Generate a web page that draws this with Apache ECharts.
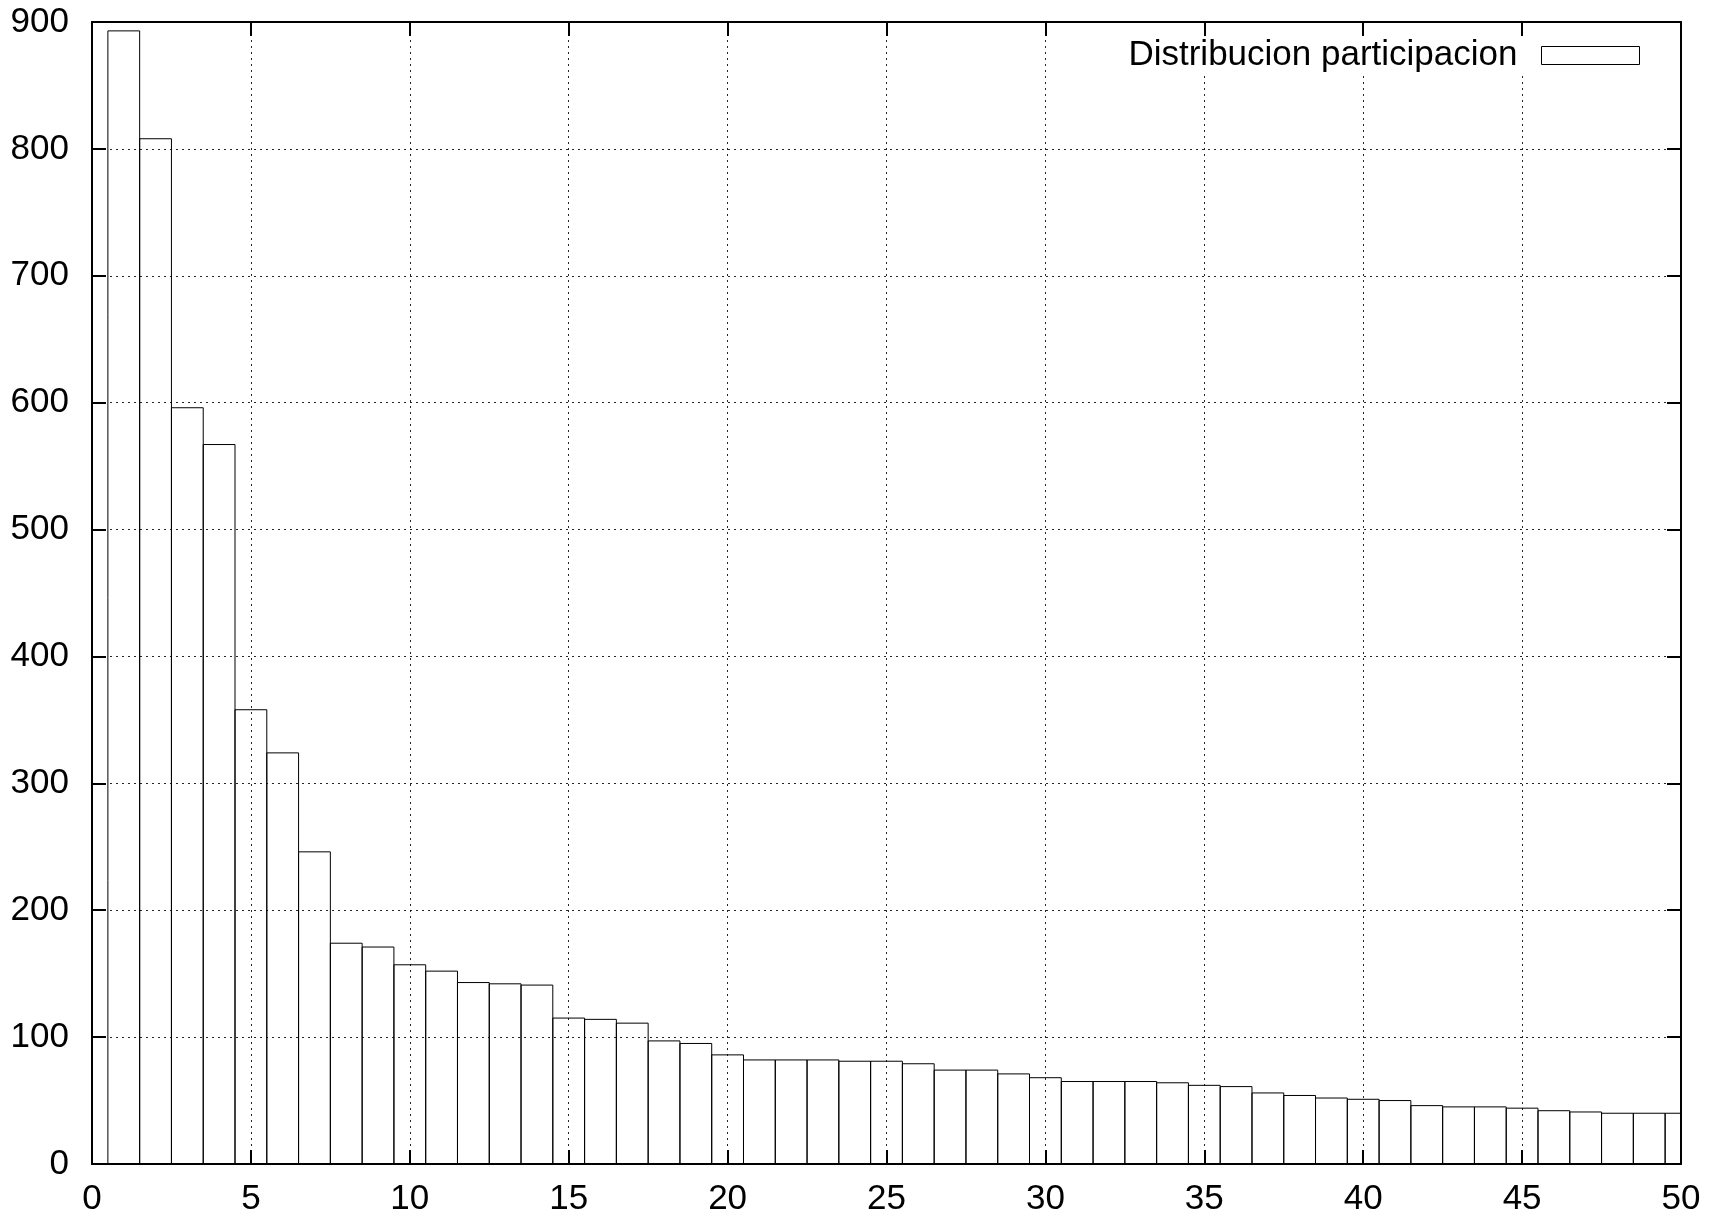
<!DOCTYPE html>
<html>
<head>
<meta charset="utf-8">
<script src="https://cdn.jsdelivr.net/npm/echarts@6/dist/echarts.min.js"></script>
<style>
html,body{margin:0;padding:0;background:#fff;}
#chart{width:1724px;height:1218px;}
</style>
</head>
<body>
<div id="chart"></div>
<script>
// x positions of the bars (categories)
const categories = [1,2,3,4,5,6,7,8,9,10,11,12,13,14,15,16,17,18,19,20,21,22,23,24,25,26,27,28,29,30,31,32,33,34,35,36,37,38,39,40,41,42,43,44,45,46,47,48,49,50];
// bar heights
const values = [893,808,596,567,358,324,246,174,171,157,152,143,142,141,115,114,111,97,95,86,82,82,82,81,81,79,74,74,71,68,65,65,65,64,62,61,56,54,52,51,50,46,45,45,44,42,41,40,40,40];
const seriesName = 'Distribucion participacion';
const xTicks = [0,5,10,15,20,25,30,35,40,45,50];
const yTicks = [0,100,200,300,400,500,600,700,800,900];

const FONT = "'Liberation Sans', Arial, sans-serif";
const FS = 35;
const data = categories.map((c, i) => [c, values[i]]);

const chart = echarts.init(document.getElementById('chart'), null, {renderer: 'canvas'});
const dotted = {color: '#000', width: 1, type: [2, 4], opacity: 0.85};

chart.setOption({
  animation: false,
  backgroundColor: '#fff',
  grid: {left: 92, right: 43, top: 22, bottom: 54, containLabel: false},
  legend: {
    show: true,
    right: 74, top: 25,
    align: 'right',
    padding: [13, 10, 0, 12],
    backgroundColor: '#fff',
    itemWidth: 98, itemHeight: 18,
    icon: 'rect',
    data: [{name: seriesName, icon: 'rect', itemStyle: {color: '#fff', borderColor: '#000', borderWidth: 1}}],
    textStyle: {fontFamily: FONT, fontSize: FS, color: '#000', padding: [0, 19, 0, 0]},
    z: 4
  },
  xAxis: [
    {
      type: 'value', position: 'bottom', min: xTicks[0], max: xTicks[xTicks.length - 1], interval: 5,
      axisLine: {show: true, onZero: false, lineStyle: {color: '#000', width: 2}},
      axisTick: {show: true, inside: true, length: 14, lineStyle: {color: '#000', width: 2}},
      axisLabel: {show: true, margin: 18, fontFamily: FONT, fontSize: FS, color: '#000'},
      splitLine: {show: true, lineStyle: dotted},
      z: 1
    },
    {
      type: 'value', position: 'top', min: xTicks[0], max: xTicks[xTicks.length - 1], interval: 5,
      axisLine: {show: true, onZero: false, lineStyle: {color: '#000', width: 2}},
      axisTick: {show: true, inside: true, length: 14, lineStyle: {color: '#000', width: 2}},
      axisLabel: {show: false},
      splitLine: {show: false},
      z: 10
    }
  ],
  yAxis: [
    {
      type: 'value', position: 'left', min: yTicks[0], max: yTicks[yTicks.length - 1], interval: 100,
      axisLine: {show: true, onZero: false, lineStyle: {color: '#000', width: 2}},
      axisTick: {show: true, inside: true, length: 14, lineStyle: {color: '#000', width: 2}},
      axisLabel: {show: true, margin: 23, fontFamily: FONT, fontSize: FS, color: '#000'},
      splitLine: {show: true, lineStyle: dotted},
      z: 1
    },
    {
      type: 'value', position: 'right', min: yTicks[0], max: yTicks[yTicks.length - 1], interval: 100,
      axisLine: {show: true, onZero: false, lineStyle: {color: '#000', width: 2}},
      axisTick: {show: true, inside: true, length: 14, lineStyle: {color: '#000', width: 2}},
      axisLabel: {show: false},
      splitLine: {show: false},
      z: 10
    }
  ],
  series: [{
    name: seriesName,
    type: 'custom',
    xAxisIndex: 0, yAxisIndex: 0,
    clip: true,
    data: data,
    itemStyle: {color: '#fff', borderColor: '#000'},
    renderItem: function (params, api) {
      const x = api.value(0), y = api.value(1);
      const p0 = api.coord([x - 0.5, y]);
      const p1 = api.coord([x + 0.5, 0]);
      return {
        type: 'rect',
        shape: {x: p0[0], y: p0[1], width: p1[0] - p0[0], height: p1[1] - p0[1]},
        style: {fill: 'rgba(255,255,255,0)', stroke: '#000', lineWidth: 1}
      };
    },
    z: 2
  }]
});
</script>
</body>
</html>
